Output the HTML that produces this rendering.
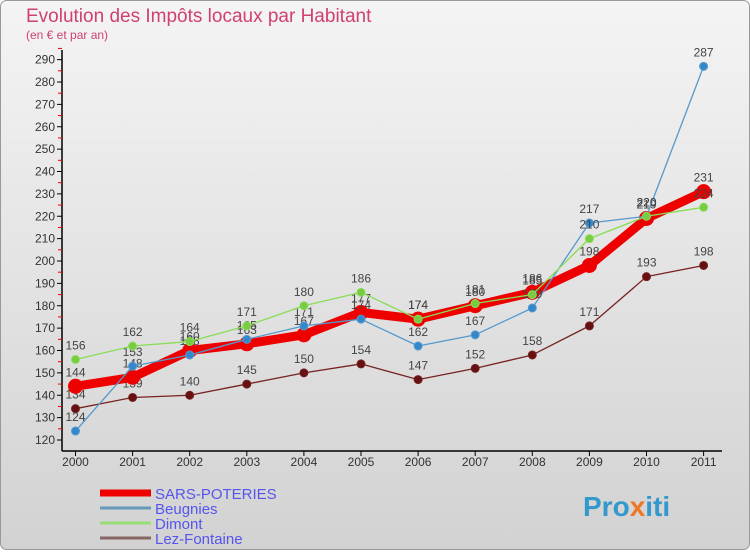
<!DOCTYPE html>
<html><head><meta charset="utf-8">
<style>
body{margin:0;width:750px;height:550px;overflow:hidden;font-family:"Liberation Sans",sans-serif;}
svg text{font-family:"Liberation Sans",sans-serif;}
</style></head>
<body>
<svg id="chart" width="750" height="550" xmlns="http://www.w3.org/2000/svg">
<defs>
<linearGradient id="bg" x1="0" y1="0" x2="0" y2="1">
<stop offset="0" stop-color="#f4f4f4"/><stop offset="1" stop-color="#d2d2d2"/>
</linearGradient>
</defs>
<rect x="0.5" y="0.5" width="749" height="549" rx="6" fill="url(#bg)" stroke="#999"/>
<text x="26" y="22" font-size="19" fill="#d04070">Evolution des Impôts locaux par Habitant</text>
<text x="26" y="39" font-size="12" fill="#d04070">(en € et par an)</text>
<g id="axes"></g>
<g id="series"></g>
<g id="legend"></g>
<text x="583" y="516" font-size="28" font-weight="bold" fill="#3399cc">Pro<tspan fill="#ee7722">x</tspan>iti</text>
</svg>
<script>
const years=[2000,2001,2002,2003,2004,2005,2006,2007,2008,2009,2010,2011];
const yTicks=[120,130,140,150,160,170,180,190,200,210,220,230,240,250,260,270,280,290];
const sars=[144,148,160,163,167,177,174,180,186,198,219,231];
const beugnies=[124,153,158,165,171,174,162,167,179,217,220,287];
const dimont=[156,162,164,171,180,186,174,181,185,210,220,224];
const lez=[134,139,140,145,150,154,147,152,158,171,193,198];
const seriesNames=["SARS-POTERIES","Beugnies","Dimont","Lez-Fontaine"];

const NS="http://www.w3.org/2000/svg";
function X(i){return 75.5+i*57.1;}
function Y(v){return 440-(v-120)*2.2375;}
function mk(tag,attrs,parent){const e=document.createElementNS(NS,tag);for(const k in attrs)e.setAttribute(k,attrs[k]);parent.appendChild(e);return e;}
const axes=document.getElementById('axes');
let a=mk('line',{x1:62,y1:50,x2:62,y2:451,stroke:'#000','stroke-width':1.5},axes);


a=mk('line',{x1:62,y1:451,x2:722,y2:451,stroke:'#000','stroke-width':1.5},axes);


yTicks.forEach(v=>{
  mk('line',{x1:57,y1:Y(v),x2:62,y2:Y(v),stroke:'#000'},axes);
  mk('line',{x1:58,y1:Y(v+5),x2:62,y2:Y(v+5),stroke:'#e00'},axes);
  const t=mk('text',{x:55,y:Y(v)+4,'font-size':12,fill:'#333','text-anchor':'end'},axes);
  t.textContent=v;
  
  
});
years.forEach((y,i)=>{
  mk('line',{x1:X(i),y1:451,x2:X(i),y2:456,stroke:'#000'},axes);
  const t=mk('text',{x:X(i),y:466,'font-size':12,fill:'#333','text-anchor':'middle'},axes);
  t.textContent=y;
  
  
});
const ser=document.getElementById('series');
function draw(vals,color,w,r,name,dot){
  const g=mk('g',{},ser);
  
  
  const p=mk('polyline',{points:vals.map((v,i)=>X(i)+','+Y(v)).join(' '),fill:'none',stroke:color,'stroke-width':w,'stroke-linejoin':'round'},g);
  
  
  vals.forEach((v,i)=>{
    const c=mk('circle',{cx:X(i),cy:Y(v),r:r,fill:dot,stroke:color,'stroke-width':1},g);
    
    
    const t=mk('text',{x:X(i),y:Y(v)-10,'font-size':12,fill:'#444','text-anchor':'middle'},g);
    t.textContent=v;
    
    
  });
}
draw(lez,'#772222',1.3,4,'lez-fontaine','#661111');
draw(sars,'#ee0000',9,7,'sars-poteries','#ee0000');
draw(beugnies,'#5599cc',1.3,4,'beugnies','#3388cc');
draw(dimont,'#88dd55',1.3,4,'dimont','#77cc44');
const leg=document.getElementById('legend');
const lc=['#ee0000','#6699bb','#99dd77','#886666'];const lw=[7,3,3,3];
seriesNames.forEach((n,i)=>{
  const y=493+i*15;
  const l=mk('line',{x1:100,y1:y,x2:151,y2:y,stroke:lc[i],'stroke-width':lw[i]},leg);
  
  
  const t=mk('text',{x:155,y:y+6,'font-size':15,fill:'#5555ee'},leg);
  t.textContent=n;
  
  
});
</script>
</body></html>
